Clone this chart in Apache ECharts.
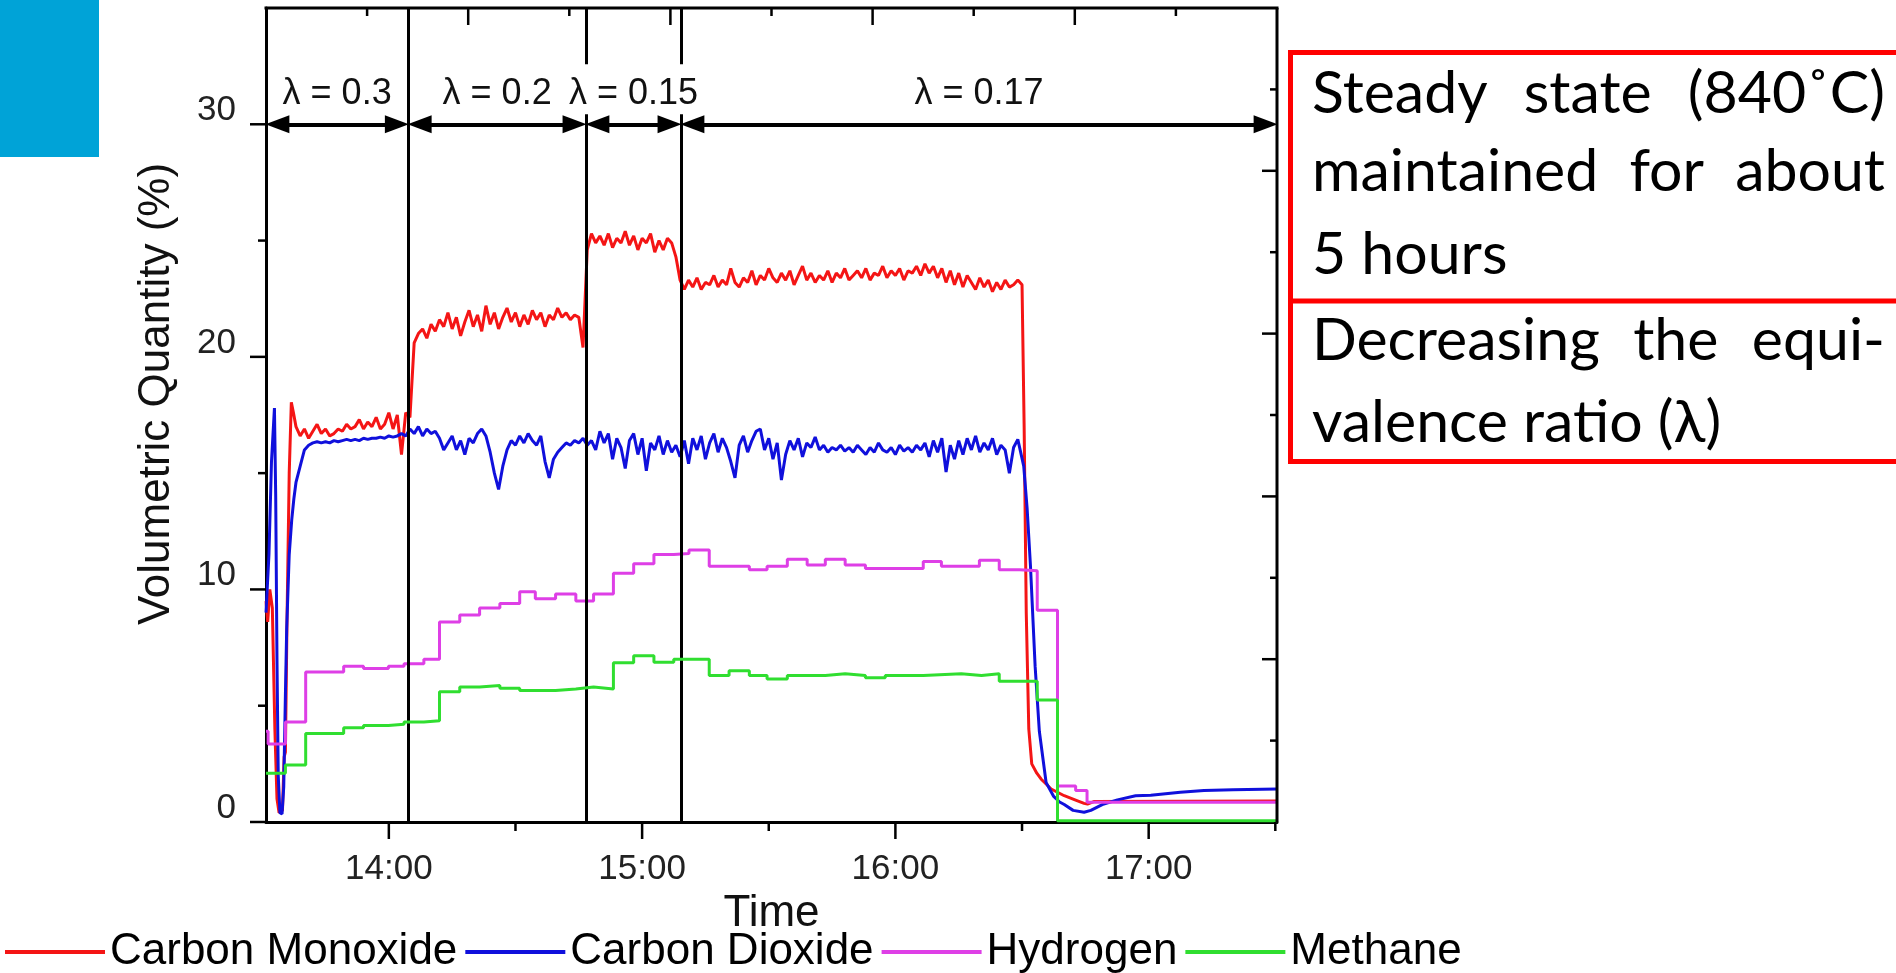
<!DOCTYPE html>
<html>
<head>
<meta charset="utf-8">
<title>Volumetric Quantity vs Time</title>
<script src="https://cdn.jsdelivr.net/npm/echarts@6/dist/echarts.min.js"></script>
<style>
  html, body { margin: 0; padding: 0; background: #fff; }
  #chart { width: 1896px; height: 973px; }
</style>
</head>
<body>
<div id="chart"></div>
<script>
// time is in minutes after midnight (810.9 = 13:30.9)
const timeMin = 810.9;
const timeMax = 1050.4;
const yMax = 35;
const hourTicks = [840, 900, 960, 1020];
const halfHourTicks = [870, 930, 990, 1050];
const yLabels = [0, 10, 20, 30];
const yMinorTicks = [5, 15, 25];
// the top and right frame edges carry ten unlabelled divisions each
const frameDivisions = 10;

// stage boundaries (vertical lines) and equivalence ratios
const stageBounds = [810.9, 844.6, 886.7, 909.2, 1050.4];
const stageLabels = ['λ = 0.3', 'λ = 0.2', 'λ = 0.15', 'λ = 0.17'];
const arrowLevel = 30;

// Carbon monoxide: start-up transient, one value per minute from 818, shutdown tail
const coStart = [[810.9, 9.5], [811.3, 8.6], [811.8, 10.0], [812.4, 9.2], [813.0, 4.0], [813.5, 1.0],
  [814.0, 0.4], [814.8, 0.5], [815.2, 2.8], [815.5, 3.0], [815.9, 9.0], [816.4, 15.0], [816.9, 18.05], [817.4, 17.6]];
const coMinuteStart = 818;
const coByMinute = [
  17.0, 16.6, 16.9, 16.5, 16.8, 17.1, 16.7, 16.9, 16.6, 16.7,
  16.9, 16.8, 17.1, 16.9, 17.0, 17.3, 16.9, 17.2, 17.0, 17.4,
  16.9, 17.1, 17.6, 16.9, 17.5, 15.8, 17.6, 17.4, 20.6, 21.0,
  21.2, 20.8, 21.4, 21.1, 21.6, 21.3, 21.9, 21.2, 21.7, 20.9,
  21.5, 22.0, 21.3, 21.8, 21.1, 22.2, 21.4, 21.9, 21.2, 21.7,
  22.1, 21.5, 21.9, 21.3, 21.8, 21.4, 22.0, 21.6, 21.9, 21.3,
  21.8, 21.6, 22.1, 21.7, 21.9, 21.6, 21.8, 21.7, 20.4, 24.6,
  25.3, 24.9, 25.2, 24.8, 25.3, 24.7, 25.1, 24.9, 25.4, 24.8,
  25.2, 24.6, 25.1, 24.9, 25.3, 24.5, 25.0, 24.6, 25.1, 24.9,
  24.3, 23.3, 22.9, 23.3, 23.0, 23.4, 22.9, 23.2, 23.1, 23.5,
  23.0, 23.3, 23.1, 23.8, 23.2, 23.0, 23.4, 23.2, 23.7, 23.1,
  23.5, 23.3, 23.8, 23.4, 23.2, 23.6, 23.3, 23.7, 23.1, 23.5,
  23.9, 23.3, 23.6, 23.2, 23.5, 23.3, 23.7, 23.2, 23.6, 23.4,
  23.8, 23.3, 23.5, 23.7, 23.4, 23.8, 23.3, 23.6, 23.5, 23.9,
  23.4, 23.7, 23.5, 23.8, 23.3, 23.7, 23.6, 23.9, 23.5, 24.0,
  23.6, 23.9, 23.4, 23.8, 23.2, 23.7, 23.1, 23.6, 23.0, 23.5,
  23.2, 22.9, 23.4, 23.0, 23.3, 22.8, 23.2, 22.9, 23.3, 23.0,
  23.1, 23.3
];
const coEnd = [[990.0, 23.1], [990.5, 17.0], [991.0, 9.0], [991.6, 4.0], [992.3, 2.5], [993.5, 2.1],
  [994.5, 1.85], [996.9, 1.42], [1000.0, 1.13], [1003.0, 0.92], [1004.7, 0.8], [1005.5, 0.77],
  [1007.0, 0.88], [1050.4, 0.9]];

// Carbon dioxide
const co2Start = [[810.9, 9.0], [811.6, 11.5], [812.2, 15.5], [812.9, 17.8], [813.2, 14.0], [813.5, 7.0],
  [813.8, 2.0], [814.2, 0.4], [814.7, 0.35], [815.1, 1.5], [815.5, 5.5], [815.8, 8.3], [816.4, 11.5],
  [817.0, 13.0], [817.5, 13.9]];
const co2MinuteStart = 818;
const co2ByMinute = [
  14.6, 15.3, 16.0, 16.2, 16.3, 16.35, 16.3, 16.35, 16.3, 16.4,
  16.35, 16.4, 16.45, 16.4, 16.45, 16.4, 16.5, 16.45, 16.5, 16.5,
  16.55, 16.5, 16.6, 16.55, 16.6, 16.7, 16.6, 16.9, 16.7, 17.0,
  16.6, 16.9, 16.7, 16.8, 16.5, 16.0, 16.3, 16.6, 16.0, 16.4,
  15.8, 16.5, 16.3, 16.7, 16.9, 16.6, 15.9, 15.0, 14.3, 15.3,
  16.0, 16.4, 16.2, 16.6, 16.3, 16.7, 16.4, 16.2, 16.6, 15.5,
  14.8, 15.6, 15.9, 16.1, 16.3, 16.2, 16.4, 16.3, 16.5, 16.2,
  16.4, 16.0, 16.8, 16.3, 16.7, 15.6, 16.5, 16.1, 15.2, 16.4,
  16.7, 15.8, 16.5, 15.1, 16.3, 16.0, 16.6, 15.8, 16.4, 15.9,
  16.2, 15.7, 16.4, 15.4, 16.5, 16.0, 16.6, 15.6, 16.3, 16.7,
  15.9, 16.5, 16.1, 15.5, 14.8, 16.2, 16.6, 15.9, 16.4, 16.8,
  16.9, 16.0, 16.5, 15.6, 16.3, 14.7, 15.8, 16.4, 16.0, 16.5,
  15.7, 16.3, 16.1, 16.55, 16.0, 16.2, 15.9, 16.1, 16.0, 16.2,
  15.95, 16.1, 15.9, 16.2, 16.0, 15.8, 16.1, 15.9, 16.3, 16.0,
  15.9, 16.1, 15.8, 16.2, 15.95, 16.1, 15.9, 16.2, 16.0, 16.3,
  15.7, 16.4, 15.9, 16.5, 15.05, 16.2, 15.6, 16.4, 15.8, 16.5,
  16.0, 16.6, 15.9, 16.3, 16.0, 16.5, 15.8, 16.2, 16.0, 15.0,
  16.1, 16.45
];
const co2End = [[990.4, 15.3], [991.2, 13.5], [992.0, 11.0], [993.1, 6.7], [994.1, 3.9], [995.7, 1.7],
  [997.5, 1.1], [998.9, 0.86], [1000.0, 0.75], [1002.1, 0.5], [1004.7, 0.42], [1006.3, 0.5],
  [1009.0, 0.75], [1012.6, 0.95], [1016.9, 1.13], [1020.5, 1.15], [1027.5, 1.28], [1033.1, 1.35],
  [1040.0, 1.39], [1050.4, 1.42]];

// Hydrogen and methane are held between analyser samples: [sample time, value]
const hydrogen = [[810.9, 3.9], [811.4, 3.35], [815.5, 4.3], [820.3, 6.45], [829.3, 6.7], [834.0, 6.6],
  [839.9, 6.7], [843.6, 6.8], [848.3, 7.0], [852.0, 8.6], [856.8, 8.9], [861.5, 9.2], [866.3, 9.4],
  [871.0, 9.9], [874.7, 9.6], [879.5, 9.8], [884.3, 9.5], [888.5, 9.8], [893.2, 10.7], [898.0, 11.1],
  [902.8, 11.5], [907.5, 11.55], [911.1, 11.7], [915.9, 11.0], [925.4, 10.85], [929.6, 11.0],
  [934.4, 11.3], [939.1, 11.05], [943.4, 11.3], [948.1, 11.05], [952.9, 10.9], [966.6, 11.2],
  [970.9, 11.0], [979.9, 11.25], [984.6, 10.85], [989.4, 10.8], [993.6, 9.1], [998.4, 1.55],
  [1002.7, 1.35], [1005.4, 0.85], [1050.4, 0.85]];
const methane = [[810.9, 2.1], [815.5, 2.45], [820.3, 3.8], [829.3, 4.05], [834.0, 4.15], [839.9, 4.2],
  [843.6, 4.3], [848.3, 4.35], [852.0, 5.6], [856.8, 5.8], [861.5, 5.87], [866.3, 5.75], [871.0, 5.65],
  [879.5, 5.72], [884.3, 5.8], [888.5, 5.72], [893.2, 6.85], [898.0, 7.15], [902.8, 6.87], [907.5, 7.0],
  [915.9, 6.3], [920.6, 6.5], [925.4, 6.3], [929.6, 6.15], [934.4, 6.3], [943.4, 6.37], [948.1, 6.3],
  [952.9, 6.2], [957.6, 6.3], [966.6, 6.37], [975.6, 6.3], [980.4, 6.37], [984.6, 6.05], [993.6, 5.25],
  [998.4, 0.05], [1050.4, 0.05]];

const seriesNames = ['Carbon Monoxide', 'Carbon Dioxide', 'Hydrogen', 'Methane'];
const seriesColors = ['#F41515', '#1010DC', '#DE3FE6', '#30DE30'];

// side notes
const noteSteady = ['Steady state (840˚C)', 'maintained for about', '5 hours'];
const noteLambda = ['Decreasing the equi-', 'valence ratio (λ)'];

function byMinute(start, values) {
  return values.map((v, i) => [start + i, v]);
}
const coData = coStart.concat(byMinute(coMinuteStart, coByMinute), coEnd);
const co2Data = co2Start.concat(byMinute(co2MinuteStart, co2ByMinute), co2End);

function clock(v) {
  const h = Math.floor(v / 60);
  const m = Math.round(v - h * 60);
  return h + ':' + String(m).padStart(2, '0');
}

const chartFont = 'Liberation Sans';
const noteFont = 'Lato';
const noteSize = 59;
const noteLeft = 1312, noteRight = 1885;
const noteLineY = [94, 172, 255, 341, 423];

const measure = document.createElement('canvas').getContext('2d');
function noteLine(text, y, justify) {
  measure.font = noteSize + 'px ' + noteFont;
  const words = text.split(' ');
  const widths = words.map(w => measure.measureText(w).width);
  const total = widths.reduce((a, b) => a + b, 0);
  const gap = justify && words.length > 1
    ? (noteRight - noteLeft - total) / (words.length - 1)
    : measure.measureText(' ').width;
  const out = [];
  let x = noteLeft;
  words.forEach((w, i) => {
    out.push({
      type: 'text', x: x, y: y, z: 30,
      style: { text: w, fontSize: noteSize, fontFamily: noteFont, fill: '#000',
        align: 'left', verticalAlign: 'middle', textAlign: 'left', textVerticalAlign: 'middle' }
    });
    x += widths[i] + gap;
  });
  return out;
}

const noteTexts = [];
noteSteady.forEach((t, i) => noteTexts.push(...noteLine(t, noteLineY[i], i < noteSteady.length - 1)));
noteLambda.forEach((t, i) => noteTexts.push(...noteLine(t, noteLineY[3 + i], i < noteLambda.length - 1)));

const lineSeries = seriesNames.map((name, i) => ({
  name: name,
  type: 'line',
  data: [coData, co2Data, hydrogen, methane][i],
  step: i >= 2 ? 'end' : false,
  symbol: 'none',
  showSymbol: false,
  lineStyle: { color: seriesColors[i], width: 3 },
  itemStyle: { color: seriesColors[i] },
  z: 2 + i
}));

// arrow centres sit half an arrowhead inside each stage so the tips touch the boundaries
const arrowInset = 2.7;
const stageArrows = stageLabels.map((label, i) => [
  { coord: [stageBounds[i] + arrowInset, arrowLevel], name: label },
  { coord: [stageBounds[i + 1] - arrowInset, arrowLevel] }
]);

const black = { color: '#000', width: 3 };
const noTicks = { show: false };

const baseGraphics = [
  { type: 'rect', z: 30, shape: { x: 0, y: 0, width: 99, height: 157 }, style: { fill: '#00A3D7' } },
  {
    type: 'text', x: 157, y: 394, rotation: Math.PI / 2, z: 30,
    style: { text: 'Volumetric Quantity (%)', fontSize: 44, fontFamily: chartFont, fill: '#111',
      align: 'center', verticalAlign: 'middle', textAlign: 'center', textVerticalAlign: 'middle' }
  },
  { type: 'rect', z: 30, shape: { x: 1290.5, y: 52.5, width: 700, height: 409 },
    style: { fill: 'none', stroke: '#FF0000', lineWidth: 5 } },
  { type: 'line', z: 30, shape: { x1: 1290.5, y1: 301, x2: 1900, y2: 301 },
    style: { stroke: '#FF0000', lineWidth: 5 } }
].concat(noteTexts);

const chart = echarts.init(document.getElementById('chart'));
chart.setOption({
  animation: false,
  backgroundColor: '#fff',
  textStyle: { fontFamily: chartFont },
  grid: { left: 266, right: 619, top: 8, bottom: 151 },
  legend: {
    data: seriesNames,
    left: 0, top: 922,
    icon: 'rect', itemWidth: 100, itemHeight: 4, itemGap: 8,
    textStyle: { fontSize: 44, color: '#000', fontFamily: chartFont, lineHeight: 50 }
  },
  xAxis: {
    type: 'value', min: timeMin, max: timeMax, position: 'bottom',
    name: 'Time', nameLocation: 'middle', nameGap: 54,
    nameTextStyle: { fontSize: 44, color: '#111', fontFamily: chartFont },
    axisLine: { show: true, lineStyle: black },
    axisTick: noTicks, minorTick: noTicks,
    axisLabel: { customValues: hourTicks, formatter: clock, fontSize: 35, color: '#222', margin: 30 },
    splitLine: { show: false }, minorSplitLine: { show: false }
  },
  yAxis: {
    type: 'value', min: 0, max: yMax, position: 'left',
    axisLine: { show: true, lineStyle: black },
    axisTick: noTicks, minorTick: noTicks,
    axisLabel: { customValues: yLabels, fontSize: 35, color: '#222', margin: 30,
      verticalAlign: 'bottom', lineHeight: 28 },
    splitLine: { show: false }, minorSplitLine: { show: false }
  },
  graphic: baseGraphics,
  series: lineSeries.concat([
    {
      type: 'line', data: [], silent: true, z: 6,
      markLine: {
        silent: true, symbol: 'none', animation: false,
        lineStyle: { color: '#000', width: 3, type: 'solid' },
        label: { show: false },
        data: stageBounds.slice(1, -1).map(t => ({ xAxis: t }))
      }
    },
    {
      type: 'line', data: [], silent: true, z: 7,
      markLine: {
        silent: true, animation: false,
        symbol: ['triangle', 'triangle'], symbolSize: [18, 24],
        lineStyle: { color: '#000', width: 4, type: 'solid' },
        label: {
          show: true, position: 'middle', formatter: '{b}', distance: 10,
          fontSize: 36, color: '#111', fontFamily: chartFont,
          backgroundColor: '#fff', padding: [12, 2, 2, 2]
        },
        data: stageArrows
      }
    }
  ])
});

// ticks and the top/right frame, placed through the axes' own scales
function seg(x1, y1, x2, y2, w) {
  return { type: 'line', z: 30, shape: { x1: x1, y1: y1, x2: x2, y2: y2 },
    style: { stroke: '#000', lineWidth: w } };
}
const px = p => chart.convertToPixel({ gridIndex: 0 }, p);
const frame = [];
const topLeft = px([timeMin, yMax]);
const bottomRight = px([timeMax, 0]);
frame.push(seg(topLeft[0] - 1.5, topLeft[1], bottomRight[0] + 1.5, topLeft[1], 3));
frame.push(seg(bottomRight[0], topLeft[1], bottomRight[0], bottomRight[1], 3));
hourTicks.forEach(t => { const p = px([t, 0]); frame.push(seg(p[0], p[1], p[0], p[1] + 17, 2.5)); });
halfHourTicks.forEach(t => { const p = px([t, 0]); frame.push(seg(p[0], p[1], p[0], p[1] + 9, 2.5)); });
yLabels.forEach(v => { const p = px([timeMin, v]); frame.push(seg(p[0] - 16, p[1], p[0], p[1], 2.5)); });
yMinorTicks.forEach(v => { const p = px([timeMin, v]); frame.push(seg(p[0] - 8, p[1], p[0], p[1], 2.5)); });
for (let k = 1; k < frameDivisions; k++) {
  const major = k % 2 === 0;
  const tx = px([timeMin + (timeMax - timeMin) * k / frameDivisions, yMax]);
  frame.push(seg(tx[0], tx[1], tx[0], tx[1] + (major ? 17 : 8), 2.5));
  const ty = px([timeMax, yMax * k / frameDivisions]);
  frame.push(seg(ty[0] - (major ? 15 : 7), ty[1], ty[0], ty[1], 2.5));
}
chart.setOption({ graphic: baseGraphics.concat(frame) });
</script>
</body>
</html>
